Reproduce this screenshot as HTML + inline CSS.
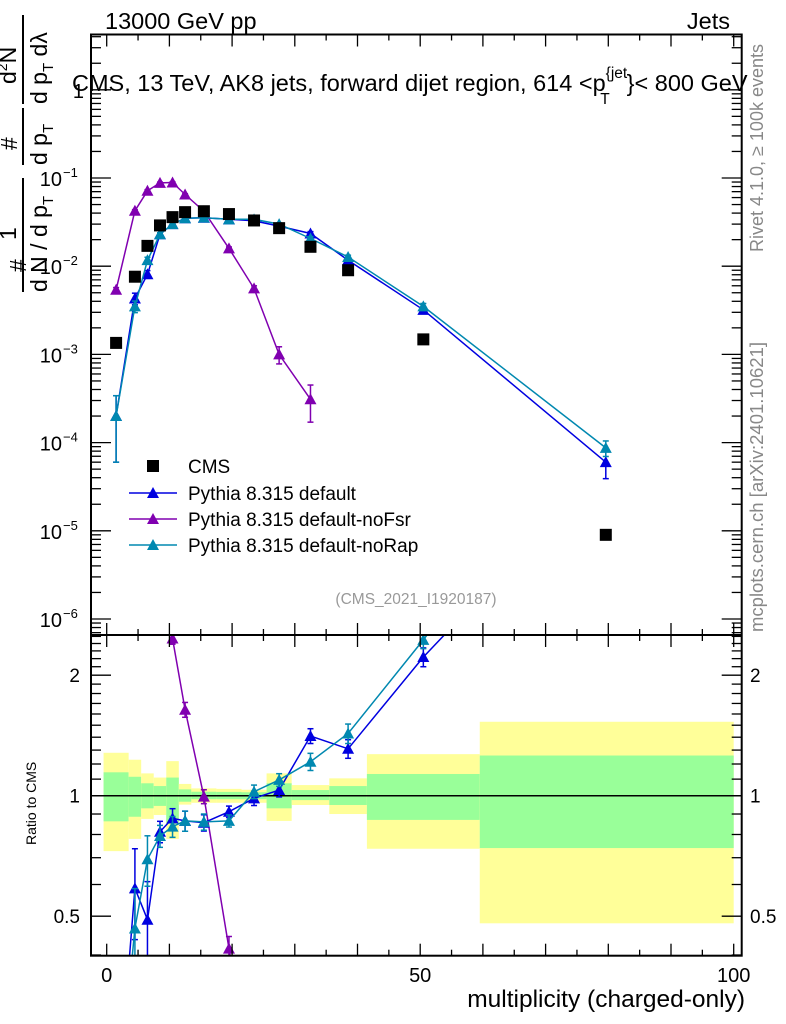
<!DOCTYPE html>
<html><head><meta charset="utf-8"><style>
html,body{margin:0;padding:0;background:#fff;width:786px;height:1024px;overflow:hidden;}
svg{display:block;font-family:"Liberation Sans",sans-serif;}
</style></head><body>
<svg id="chart" width="786" height="1024" viewBox="0 0 786 1024" xmlns="http://www.w3.org/2000/svg">
<defs>
<clipPath id="clipMain"><rect x="91" y="34.5" width="650.7" height="600.5"/></clipPath>
<clipPath id="clipRatio"><rect x="91" y="635" width="650.7" height="320.7"/></clipPath>
</defs>
<g id="bands" clip-path="url(#clipRatio)"></g>
<g id="ratioMarks" clip-path="url(#clipRatio)"></g>
<g id="mainMarks" clip-path="url(#clipMain)"></g>
<g id="axes"></g>

<text x="105" y="29" font-size="23.5">13000 GeV pp</text>
<text x="730" y="29" font-size="23.5" text-anchor="end">Jets</text>
<text x="72" y="91" font-size="23.5">CMS, 13 TeV, AK8 jets, forward dijet region, 614 &lt;p<tspan font-size="15.5" dy="-13">{jet</tspan><tspan font-size="15.5" dx="-27" dy="26">T</tspan><tspan dy="-13" dx="17">}&lt; 800 GeV</tspan></text>
<text transform="translate(763,252) rotate(-90)" font-size="18" fill="#888">Rivet 4.1.0, ≥ 100k events</text>
<text transform="translate(763,632) rotate(-90)" font-size="18.5" fill="#888">mcplots.cern.ch [arXiv:2401.10621]</text>
<text x="416" y="604" font-size="15.5" fill="#999" text-anchor="middle">(CMS_2021_I1920187)</text>

<g transform="rotate(-90)" font-size="23">
<text x="-272" y="26">#</text>
<text x="-240" y="16">1</text>
<line x1="-292" y1="23" x2="-178" y2="23" stroke="#000" stroke-width="2"/>
<text x="-292" y="47">d N / d p<tspan font-size="15" dy="6">T</tspan></text>
<text x="-150" y="17">#</text>
<line x1="-165" y1="23" x2="-108" y2="23" stroke="#000" stroke-width="2"/>
<text x="-165" y="47">d p<tspan font-size="15" dy="6">T</tspan></text>
<text x="-84" y="16">d<tspan font-size="14" dy="-9">2</tspan><tspan dy="9">N</tspan></text>
<line x1="-104" y1="23" x2="-15" y2="23" stroke="#000" stroke-width="2"/>
<text x="-104" y="47">d p<tspan font-size="15" dy="6">T</tspan><tspan dy="-6">  dλ</tspan></text>
</g>
<text transform="translate(36,845) rotate(-90)" font-size="14">Ratio to CMS</text>
<text x="745" y="1007" font-size="24.5" text-anchor="end">multiplicity (charged-only)</text>

<g font-size="19">
<rect x="147" y="460" width="12" height="12" fill="#000"/>
<text x="188" y="473">CMS</text>
<line x1="129" y1="493" x2="177" y2="493" stroke="#0000e0" stroke-width="1.5"/>
<path d="M153 487 L159 498 L147 498 Z" fill="#0000e0"/>
<text x="188" y="500">Pythia 8.315 default</text>
<line x1="129" y1="519" x2="177" y2="519" stroke="#8000b0" stroke-width="1.5"/>
<path d="M153 513 L159 524 L147 524 Z" fill="#8000b0"/>
<text x="188" y="526">Pythia 8.315 default-noFsr</text>
<line x1="129" y1="545" x2="177" y2="545" stroke="#0088b0" stroke-width="1.5"/>
<path d="M153 539 L159 550 L147 550 Z" fill="#0088b0"/>
<text x="188" y="552">Pythia 8.315 default-noRap</text>
</g>
</svg>
<script>
const binEdges=[-0.5,3.5,5.5,7.5,9.5,11.5,13.5,17.5,21.5,25.5,29.5,35.5,41.5,59.5,100];
const xPoints=[1.5,4.5,6.5,8.5,10.5,12.5,15.5,19.5,23.5,27.5,32.5,38.5,50.5,79.6];
const cmsVals=[1.35e-3,7.6e-3,0.017,0.029,0.036,0.041,0.042,0.039,0.033,0.027,0.0166,0.009,1.48e-3,9e-6];
const defVals=[2e-4,4.3e-3,8.1e-3,0.023,0.030,0.035,0.0354,0.034,0.0327,0.0285,0.0235,0.0117,3.2e-3,6e-5];
const defErr=[0.7,0.15,0.1,0.04,0.03,0.03,0.03,0.03,0.03,0.03,0.05,0.05,0.08,0.35];
const noFsrVals=[5.4e-3,0.0425,0.0716,0.088,0.089,0.065,0.042,0.0159,5.6e-3,1.0e-3,3.1e-4];
const noFsrErr=[0.06,0.03,0.03,0.02,0.02,0.02,0.03,0.04,0.07,0.22,0.45];
const noRapVals=[2e-4,3.5e-3,0.0117,0.023,0.030,0.035,0.0355,0.034,0.034,0.030,0.0206,0.0127,3.5e-3,8.7e-5];
const noRapErr=[0.7,0.15,0.08,0.04,0.03,0.03,0.03,0.03,0.03,0.03,0.05,0.05,0.08,0.2];
const yellowHi=[1.28,1.23,1.137,1.11,1.22,1.07,1.043,1.04,1.035,1.137,1.063,1.105,1.27,1.53];
const greenHi=[1.144,1.115,1.074,1.057,1.11,1.037,1.023,1.022,1.02,1.074,1.033,1.057,1.133,1.26];
const greenLo=[0.863,0.886,0.93,0.943,0.85,0.966,0.98,0.98,0.98,0.93,0.975,0.948,0.87,0.74];
const yellowLo=[0.727,0.78,0.875,0.895,0.78,0.95,0.96,0.96,0.96,0.865,0.948,0.9,0.737,0.48];
const defRatio=[0.15,0.587,0.49,0.813,0.878,0.865,0.856,0.912,0.985,1.033,1.41,1.31,2.22,6.7];
const defRatioErr=[0.1,0.15,0.12,0.05,0.05,0.05,0.04,0.03,0.04,0.04,0.06,0.07,0.12,1];
const noFsrRatio=[4.0,5.6,4.2,3.0,2.47,1.64,0.995,0.415,0.17,0.037,0.019];
const noFsrRatioErr=[0.2,0.2,0.2,0.1,0.08,0.07,0.04,0.03,0.02,0.01,0.01];
const noRapRatio=[0.15,0.466,0.694,0.793,0.837,0.865,0.86,0.865,1.023,1.095,1.216,1.43,2.45,9.7];
const noRapRatioErr=[0.1,0.12,0.1,0.05,0.05,0.05,0.04,0.03,0.04,0.04,0.06,0.08,0.12,1];
const xTicks=[0,50,100];
const ratioTickLabels=[0.5,1,2];
const mainDecades=[-6,-5,-4,-3,-2,-1,0];

const NS="http://www.w3.org/2000/svg";
const L=91,R=741.7,MT=34.5,MB=635,RB=955.7;
function X(v){return 106.7+v*6.27;}
function YM(v){return 178-(Math.log10(v)+1)*88.2;}
function YR(v){return 795.7-Math.log10(v)*400.3;}
function mk(tag,attrs,parent){const e=document.createElementNS(NS,tag);for(const k in attrs)e.setAttribute(k,attrs[k]);parent.appendChild(e);return e;}

const bands=document.getElementById('bands');
for(let i=0;i<yellowHi.length;i++){
  const x0=X(binEdges[i]),x1=X(binEdges[i+1]);
  const y=mk('rect',{x:x0,y:YR(yellowHi[i]),width:x1-x0,height:YR(yellowLo[i])-YR(yellowHi[i]),fill:'#ffff99'},bands);
  
  
  const g=mk('rect',{x:x0,y:YR(greenHi[i]),width:x1-x0,height:YR(greenLo[i])-YR(greenHi[i]),fill:'#99ff99'},bands);
  
  
}
mk('line',{x1:L,x2:R,y1:YR(1),y2:YR(1),stroke:'#000','stroke-width':1.5},bands);

function tri(parent,cx,cy,col){return mk('path',{d:`M${cx} ${cy-6} L${cx+6} ${cy+5} L${cx-6} ${cy+5} Z`,fill:col},parent);}
function series(parent,vals,errFn,yf,col,name){
  const g=mk('g',{},parent);
  
  
  let d='';
  vals.forEach((v,i)=>{d+=(i?'L':'M')+X(xPoints[i]).toFixed(1)+' '+yf(v).toFixed(1);});
  mk('path',{d:d,fill:'none',stroke:col,'stroke-width':1.5},g);
  vals.forEach((v,i)=>{
    const cx=X(xPoints[i]);const [lo,hi]=errFn(v,i);
    const y1=yf(hi),y2=yf(Math.max(lo,1e-9));
    mk('line',{x1:cx,x2:cx,y1:y1,y2:y2,stroke:col,'stroke-width':1.5},g);
    mk('line',{x1:cx-3,x2:cx+3,y1:y1,y2:y1,stroke:col,'stroke-width':1.5},g);
    mk('line',{x1:cx-3,x2:cx+3,y1:y2,y2:y2,stroke:col,'stroke-width':1.5},g);
    const t=tri(g,cx,yf(v),col);
    
    
  });
}
const rm=document.getElementById('ratioMarks');
series(rm,noFsrRatio,(v,i)=>[v-noFsrRatioErr[i],v+noFsrRatioErr[i]],YR,'#8000b0','ratio-nofsr');
series(rm,defRatio,(v,i)=>[v-defRatioErr[i],v+defRatioErr[i]],YR,'#0000e0','ratio-default');
series(rm,noRapRatio,(v,i)=>[v-noRapRatioErr[i],v+noRapRatioErr[i]],YR,'#0088b0','ratio-norap');

const mm=document.getElementById('mainMarks');
series(mm,noFsrVals,(v,i)=>[v*(1-noFsrErr[i]),v*(1+noFsrErr[i])],YM,'#8000b0','pythia-nofsr');
series(mm,defVals,(v,i)=>[v*(1-defErr[i]),v*(1+defErr[i])],YM,'#0000e0','pythia-default');
series(mm,noRapVals,(v,i)=>[v*(1-noRapErr[i]),v*(1+noRapErr[i])],YM,'#0088b0','pythia-norap');
cmsVals.forEach((v,i)=>{
  const r=mk('rect',{x:X(xPoints[i])-6,y:YM(v)-6,width:12,height:12,fill:'#000'},mm);
  
  
});

const ax=document.getElementById('axes');
const tk={stroke:'#000','stroke-width':1.3};
mk('rect',{x:L,y:MT,width:R-L,height:RB-MT,fill:'none',stroke:'#000','stroke-width':2},ax);
mk('line',{x1:L,x2:R,y1:MB,y2:MB,stroke:'#000','stroke-width':2},ax);
for(let v=0;v<=100;v+=5){
  const x=X(v),len=v%10===0?12:6;
  [MT,MB].forEach(y0=>mk('line',Object.assign({x1:x,x2:x,y1:y0,y2:y0+len},tk),ax));
  [MB,RB].forEach(y0=>mk('line',Object.assign({x1:x,x2:x,y1:y0,y2:y0-len},tk),ax));
}
xTicks.forEach(v=>{
  const t=mk('text',{x:X(v),y:982,'font-size':20,'text-anchor':'middle'},ax);t.textContent=v;
  
  
});
for(let d=-7;d<=0;d++){
  for(let m=1;m<=9;m++){
    const v=m*Math.pow(10,d);const y=YM(v);
    if(y<MT||y>MB)continue;
    const len=m===1?20:10;
    mk('line',Object.assign({x1:L,x2:L+len,y1:y,y2:y},tk),ax);
    mk('line',Object.assign({x1:R,x2:R-len,y1:y,y2:y},tk),ax);
  }
}
mainDecades.forEach(d=>{
  const y=YM(Math.pow(10,d));
  const t=mk('text',{x:d===0?84:62,y:y+8,'font-size':20,'text-anchor':'end'},ax);
  
  
  if(d===0){t.textContent='1';}
  else{t.textContent='10';const s=mk('tspan',{x:63,dy:-9,'font-size':13,'text-anchor':'start'},t);s.textContent='\u2212'+(-d);}
});
for(let k=4;k<=25;k++){
  const v=k/10;const y=YR(v);
  if(y<MB||y>RB)continue;
  const len=(k===5||k===10||k===20)?20:10;
  mk('line',Object.assign({x1:L,x2:L+len,y1:y,y2:y},tk),ax);
  mk('line',Object.assign({x1:R,x2:R-len,y1:y,y2:y},tk),ax);
}
ratioTickLabels.forEach(v=>{
  const y=YR(v)+7;
  const a=mk('text',{x:80,y:y,'font-size':19,'text-anchor':'end'},ax);a.textContent=v;
  
  
  const b=mk('text',{x:750,y:y,'font-size':19},ax);b.textContent=v;
  
  
});
</script>
</body></html>
